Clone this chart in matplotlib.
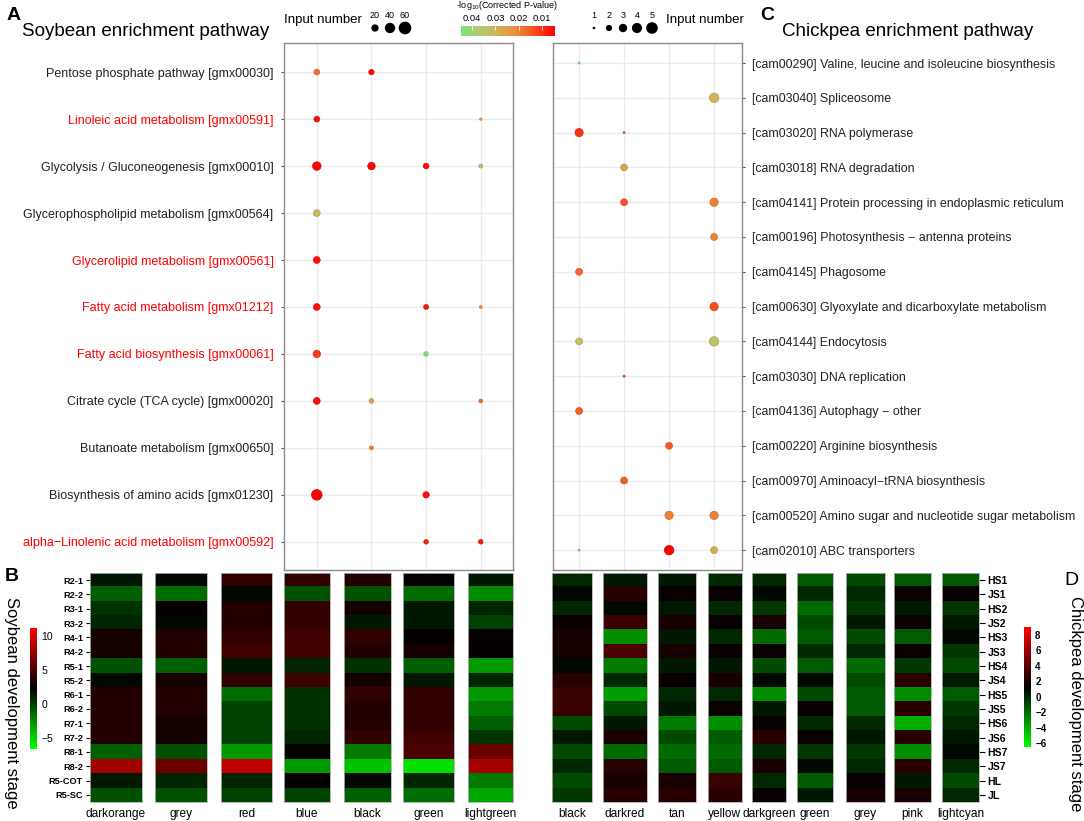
import numpy as np
import matplotlib
matplotlib.use('Agg')
import matplotlib.pyplot as plt
from matplotlib.colors import LinearSegmentedColormap, Normalize
from matplotlib.cm import ScalarMappable

plt.rcParams['font.family'] = ['Liberation Sans', 'DejaVu Sans']
nan = np.nan

# ---- data: soybean enrichment (A) ----
soy_pathways = ['Pentose phosphate pathway [gmx00030]',
                'Linoleic acid metabolism [gmx00591]',
                'Glycolysis / Gluconeogenesis [gmx00010]',
                'Glycerophospholipid metabolism [gmx00564]',
                'Glycerolipid metabolism [gmx00561]',
                'Fatty acid metabolism [gmx01212]',
                'Fatty acid biosynthesis [gmx00061]',
                'Citrate cycle (TCA cycle) [gmx00020]',
                'Butanoate metabolism [gmx00650]',
                'Biosynthesis of amino acids [gmx01230]',
                'alpha\u2212Linolenic acid metabolism [gmx00592]']
soy_highlight = [0, 1, 0, 0, 1, 1, 1, 0, 0, 0, 1]
soy_dot_modules = ['blue', 'black', 'green', 'lightgreen']
soy_counts = [[17, 15, 0, 0],
              [17, 0, 0, 3],
              [38, 29, 17, 8],
              [24, 0, 0, 0],
              [24, 0, 0, 0],
              [24, 0, 13, 4],
              [29, 0, 11, 0],
              [24, 11, 0, 7],
              [0, 8, 0, 0],
              [59, 0, 21, 0],
              [0, 0, 11, 11]]
soy_pvals = [[0.018, 0.006, nan, nan],
             [0.006, nan, nan, 0.022],
             [0.005, 0.005, 0.006, 0.033],
             [0.031, nan, nan, nan],
             [0.006, nan, nan, nan],
             [0.006, nan, 0.007, 0.021],
             [0.011, nan, 0.043, nan],
             [0.006, 0.026, nan, 0.016],
             [nan, 0.020, nan, nan],
             [0.004, nan, 0.006, nan],
             [nan, nan, 0.008, 0.007]]

# ---- data: chickpea enrichment (C) ----
chk_pathways = ['[cam00290] Valine, leucine and isoleucine biosynthesis',
                '[cam03040] Spliceosome',
                '[cam03020] RNA polymerase',
                '[cam03018] RNA degradation',
                '[cam04141] Protein processing in endoplasmic reticulum',
                '[cam00196] Photosynthesis \u2212 antenna proteins',
                '[cam04145] Phagosome',
                '[cam00630] Glyoxylate and dicarboxylate metabolism',
                '[cam04144] Endocytosis',
                '[cam03030] DNA replication',
                '[cam04136] Autophagy \u2212 other',
                '[cam00220] Arginine biosynthesis',
                '[cam00970] Aminoacyl\u2212tRNA biosynthesis',
                '[cam00520] Amino sugar and nucleotide sugar metabolism',
                '[cam02010] ABC transporters']
chk_dot_modules = ['black', 'darkred', 'tan', 'yellow']
chk_counts = [[1, 0, 0, 0],
              [0, 0, 0, 5],
              [4, 1, 0, 0],
              [0, 3, 0, 0],
              [0, 3, 0, 4],
              [0, 0, 0, 3],
              [3, 0, 0, 0],
              [0, 0, 0, 4],
              [3, 0, 0, 5],
              [0, 1, 0, 0],
              [3, 0, 0, 0],
              [0, 0, 3, 0],
              [0, 3, 0, 0],
              [0, 0, 4, 4],
              [1, 0, 5, 3]]
chk_pvals = [[0.045, nan, nan, nan],
             [nan, nan, nan, 0.029],
             [0.010, 0.015, nan, nan],
             [nan, 0.028, nan, nan],
             [nan, 0.014, nan, 0.020],
             [nan, nan, nan, 0.020],
             [0.016, nan, nan, nan],
             [nan, nan, nan, 0.013],
             [0.033, nan, nan, 0.034],
             [nan, 0.013, nan, nan],
             [0.015, nan, nan, nan],
             [nan, nan, 0.015, nan],
             [nan, 0.015, nan, nan],
             [nan, nan, 0.020, 0.020],
             [0.043, nan, 0.004, 0.027]]

# ---- data: expression heatmaps (B, D), row means per module ----
soy_stages = ['R2-1', 'R2-2', 'R3-1', 'R3-2', 'R4-1', 'R4-2', 'R5-1', 'R5-2',
              'R6-1', 'R6-2', 'R7-1', 'R7-2', 'R8-1', 'R8-2', 'R5-COT', 'R5-SC']
soy_modules = ['darkorange', 'grey', 'red', 'blue', 'black', 'green', 'lightgreen']
soy_heat = [[1.5, 2, 4, 4, 3.5, 2.5, 1.5],
            [-1, -1.5, 2, -0.5, -0.5, -1.5, -2.5],
            [0.5, 2.5, 3.5, 4, 3, 1.5, 1],
            [1, 2, 3.5, 4, 1.5, 1.5, 0],
            [3, 3.5, 4, 4.5, 4, 2.5, 2.5],
            [3, 3.5, 4.5, 4.5, 3.5, 3, 2.5],
            [-0.5, -1, 1.5, 1, 0.5, -1, -3],
            [2, 3, 4, 4.5, 3, 1.5, 1],
            [3.5, 3.5, -1.5, 0.5, 4, 4, -3],
            [3.5, 3.5, 0, 0.5, 3.5, 4, -2],
            [3.5, 3, 0, 0.5, 3.5, 4, -1],
            [3.5, 3, 0, 1, 4, 4.5, 0.5],
            [-1, -0.5, -3, 2.5, -2, 5, 6],
            [8, 6, 9, -3, -4.5, -5.5, 8],
            [1.5, 1, 1, 2.5, 2, 1, -2],
            [-0.5, -0.5, 0, 0, -1, -1.5, -3.5]]

chk_stages = ['HS1', 'JS1', 'HS2', 'JS2', 'HS3', 'JS3', 'HS4', 'JS4',
              'HS5', 'JS5', 'HS6', 'JS6', 'HS7', 'JS7', 'HL', 'JL']
chk_modules = ['black', 'darkred', 'tan', 'yellow', 'darkgreen', 'green',
               'grey', 'pink', 'lightcyan']
chk_heat = [[0, 0.5, 0.5, 0, 0, -1.5, -1, -1.5, -1.5],
            [1, 2.5, 1.5, 1.5, 1, 0, 0, 1.5, 1.5],
            [0, 1, 0.5, 0, -0.5, -2, -0.5, 0.5, -0.5],
            [1.5, 3, 2, 1.5, 2, -1, 0.5, 1.5, 0.5],
            [2, -3, 0.5, 0, -2, -1.5, -1, -1.5, 1],
            [2, 3.5, 2, 1.5, 1.5, 0, 0, 1.5, -0.5],
            [1, -2.5, 0.5, 0.5, -1, -1.5, -2, -0.5, -1],
            [2.5, 0, 1.5, 2, 1, 1, -1, 2.5, 0.5],
            [3, -3.5, 0, 0, -3, -1, -1.5, -3, -1.5],
            [3, -1, 0.5, 1.5, 0.5, 1.5, -1.5, 2.5, -0.5],
            [-1, 0.5, -2.5, -3, 1.5, 0, 0, -4, 0],
            [0.5, 2, -1, -1.5, 2.5, 1.5, 0.5, 2.5, 0.5],
            [-1, -2, -2, -2, 0, -0.5, -0.5, -3, 1],
            [0, 2.5, -1.5, -1.5, 2, 1, 0, 2.5, 0],
            [-1, 2, 2, 3, 0, -1.5, 1.5, 0.5, -1],
            [-0.5, 2.5, 2.5, 2.5, 1.5, 0.5, 2, 2, 0]]

soy_size_breaks = [20, 40, 60]
chk_size_breaks = [1, 2, 3, 4, 5]
p_ticks = [0.04, 0.03, 0.02, 0.01]

# ---- figure / layout helpers ----
W, H = 1084, 821
fig = plt.figure(figsize=(W / 100, H / 100), dpi=100)


def px_axes(x0, y0, x1, y1):
    return fig.add_axes([x0 / W, 1 - y1 / H, (x1 - x0) / W, (y1 - y0) / H])


def px_text(x, y, s, **kw):
    return fig.text(x / W, 1 - y / H, s, **kw)


def s_from_px(d):
    return (np.asarray(d) * 72 / 100.0) ** 2


def soy_size(c):
    return s_from_px(1.38 * np.sqrt(c))


def chk_size(c):
    c = np.asarray(c, dtype=float)
    return s_from_px(1.05 * np.sqrt(2 ** 2 + (c - 1) / 4.0 * (9 ** 2 - 2 ** 2)))


p_cmap = LinearSegmentedColormap.from_list(
    'pv', [(0.0, '#FF0000'), (0.26, '#F45C26'), (0.44, '#E8923C'),
           (0.63, '#CDB65E'), (0.83, '#B2CC6C'), (1.0, '#74E67E')])
p_norm = Normalize(vmin=0.0045, vmax=0.0447, clip=True)
heat_cmap = LinearSegmentedColormap.from_list('gkr', ['#00FF00', '#000000', '#FF0000'])


def darker(rgba, f=0.85):
    return (rgba[0] * f, rgba[1] * f, rgba[2] * f, 1.0)


def dot_panel(ax, counts, pvals, size_fn, xlim, ylim):
    counts = np.array(counts, dtype=float)
    pvals = np.array(pvals, dtype=float)
    rows, cols = np.nonzero(counts)
    face = p_cmap(p_norm(pvals[rows, cols]))
    ax.scatter(cols, rows, s=size_fn(counts[rows, cols]), c=face,
               edgecolors=[darker(f) for f in face], linewidths=0.5, zorder=3)
    ax.set_xlim(*xlim)
    ax.set_ylim(*ylim)
    ax.set_xticks(range(counts.shape[1]))
    ax.set_yticks(range(counts.shape[0]))
    ax.grid(color='#EBEBEB', lw=1)
    ax.set_axisbelow(True)
    ax.tick_params(axis='x', length=0, labelbottom=False)
    ax.tick_params(axis='y', length=2.5, color='#555555', labelsize=9)
    for sp in ax.spines.values():
        sp.set_color('#8C8C8C')
        sp.set_linewidth(1)


# ---- A: soybean dot plot ----
axA = px_axes(284, 43, 513, 570)
dot_panel(axA, soy_counts, soy_pvals, soy_size, (-0.6, 3.59), (10.6, -0.62))
axA.set_yticklabels(soy_pathways)
for lab, hl in zip(axA.get_yticklabels(), soy_highlight):
    lab.set_color('#FF0000' if hl else '#222222')
axA.tick_params(axis='y', pad=5)

# ---- C: chickpea dot plot ----
axC = px_axes(553, 43, 742, 570)
dot_panel(axC, chk_counts, chk_pvals, chk_size, (-0.58, 3.62), (14.57, -0.575))
axC.yaxis.tick_right()
axC.set_yticklabels(chk_pathways, color='#222222')
axC.tick_params(axis='y', pad=5, labelsize=8.9)

# ---- top legends ----
px_text(284, 20, 'Input number', fontsize=9.5, va='center', ha='left')
axL1 = px_axes(365, 8, 415, 36)
axL1.set_xlim(365, 415)
axL1.set_ylim(36, 8)
axL1.axis('off')
lx1 = [375, 390, 405]
axL1.scatter(lx1, [28] * 3, s=soy_size(soy_size_breaks) * 1.4, c='black', linewidths=0)
for x, b in zip(lx1, soy_size_breaks):
    axL1.text(x, 15, str(b), fontsize=6.5, ha='center', va='center')

axL2 = px_axes(585, 8, 662, 36)
axL2.set_xlim(585, 662)
axL2.set_ylim(36, 8)
axL2.axis('off')
lx2 = [594, 609, 623, 637, 652]
axL2.scatter(lx2, [28] * 5, s=chk_size(chk_size_breaks) * 1.5, c='black', linewidths=0)
for x, b in zip(lx2, chk_size_breaks):
    axL2.text(x, 15, str(b), fontsize=6.5, ha='center', va='center')
px_text(666, 20, 'Input number', fontsize=9.5, va='center', ha='left')

caxP = px_axes(461, 26, 555, 36)
cbP = fig.colorbar(ScalarMappable(norm=p_norm, cmap=p_cmap), cax=caxP,
                   orientation='horizontal')
cbP.outline.set_visible(False)
caxP.invert_xaxis()
caxP.xaxis.set_ticks_position('top')
cbP.set_ticks(p_ticks)
cbP.set_ticklabels([f'{t:.2f}' for t in p_ticks])
caxP.tick_params(axis='x', direction='in', color='white', length=3, width=0.6,
                 labelsize=6.8, pad=2)
px_text(507, 6, r'-log$_{\mathregular{10}}$(Corrected P-value)', fontsize=6.5,
        ha='center', va='center')

# ---- titles and panel letters ----
px_text(146, 32, 'Soybean enrichment pathway', fontsize=13.5, ha='center', va='center')
px_text(908, 32, 'Chickpea enrichment pathway', fontsize=13.5, ha='center', va='center')
px_text(14, 15, 'A', fontsize=14, fontweight='bold', ha='center', va='center')
px_text(767, 15, 'C', fontsize=14, fontweight='bold', ha='center', va='center')
px_text(12, 576, 'B', fontsize=14, fontweight='bold', ha='center', va='center')
px_text(1071, 580, 'D', fontsize=14, ha='center', va='center')

# ---- B / D heatmaps ----
heat_top, heat_bot = 573, 802
soy_heat_x = [(90, 142), (155, 207), (221, 272), (284, 330), (344, 391), (403, 454), (468, 513)]
chk_heat_x = [(552, 592), (603, 647), (658, 696), (708, 742), (752, 786), (797, 833),
              (846, 885), (894, 931), (942, 979)]
soy_norm = Normalize(vmin=-6.6, vmax=11.2)
chk_norm = Normalize(vmin=-6.5, vmax=9.0)


def heat_block(x0, x1, values, norm):
    ax = px_axes(x0, heat_top, x1, heat_bot)
    ax.imshow(np.array(values, dtype=float)[:, None], cmap=heat_cmap, norm=norm,
              aspect='auto', interpolation='nearest')
    ax.set_xticks([])
    ax.set_yticks([])
    for sp in ax.spines.values():
        sp.set_color('#B0B0B0')
        sp.set_linewidth(0.6)
    return ax


soy_arr = np.array(soy_heat, dtype=float)
for j, (name, (x0, x1)) in enumerate(zip(soy_modules, soy_heat_x)):
    ax = heat_block(x0, x1, soy_arr[:, j], soy_norm)
    px_text((x0 + x1) / 2, 814, name, fontsize=8.6, ha='center', va='center')
    if j == 0:
        ax.set_yticks(range(len(soy_stages)))
        ax.set_yticklabels(soy_stages)
        ax.tick_params(axis='y', length=3, width=0.8, pad=2, labelsize=6.6)
        for lab in ax.get_yticklabels():
            lab.set_fontweight('bold')

chk_arr = np.array(chk_heat, dtype=float)
for j, (name, (x0, x1)) in enumerate(zip(chk_modules, chk_heat_x)):
    ax = heat_block(x0, x1, chk_arr[:, j], chk_norm)
    px_text((x0 + x1) / 2, 814, name, fontsize=8.6, ha='center', va='center')
    if j == len(chk_modules) - 1:
        ax.yaxis.tick_right()
        ax.set_yticks(range(len(chk_stages)))
        ax.set_yticklabels(chk_stages)
        ax.tick_params(axis='y', length=4, width=0.8, pad=2, labelsize=7.5)
        for lab in ax.get_yticklabels():
            lab.set_fontweight('bold')

caxB = px_axes(30, 628, 37, 749)
cbB = fig.colorbar(ScalarMappable(norm=soy_norm, cmap=heat_cmap), cax=caxB)
cbB.outline.set_visible(False)
cbB.set_ticks([-5, 0, 5, 10])
caxB.tick_params(length=0, labelsize=7.5, pad=3)

caxD = px_axes(1024, 627, 1031, 747)
cbD = fig.colorbar(ScalarMappable(norm=chk_norm, cmap=heat_cmap), cax=caxD)
cbD.outline.set_visible(False)
cbD.set_ticks([-6, -4, -2, 0, 2, 4, 6, 8])
caxD.tick_params(length=0, labelsize=7, pad=3)
for lab in caxD.get_yticklabels():
    lab.set_fontweight('bold')

px_text(11, 703, 'Soybean development stage', fontsize=12, rotation=-90,
        ha='center', va='center')
px_text(1075, 704, 'Chickpea development stage', fontsize=12, rotation=-90,
        ha='center', va='center')

fig.savefig('out.png', dpi=100)
